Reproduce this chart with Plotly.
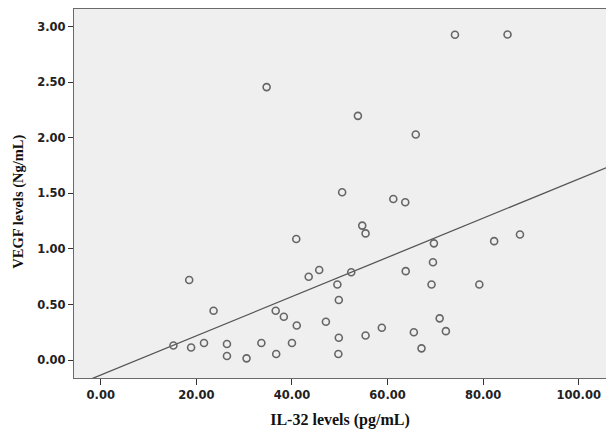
import plotly.graph_objects as go

il32 = [34.7, 74.1, 85.1, 53.8, 65.9, 50.5, 61.2, 63.7,
        54.7, 55.4, 69.7, 82.3, 87.7, 69.5, 63.8, 52.4, 45.7, 43.5,
        49.5, 69.2, 79.2, 49.8, 47.1, 41.0, 70.9, 58.8, 72.2, 65.5,
        49.8, 55.4, 67.1, 49.7,
        40.9, 18.5, 23.6, 36.6, 38.3, 15.2, 18.9, 21.6, 26.4, 26.4,
        30.5, 33.6, 36.7, 40.0]
vegf = [2.457, 2.928, 2.93, 2.198, 2.03, 1.51, 1.45, 1.42,
        1.21, 1.14, 1.05, 1.07, 1.13, 0.88, 0.80, 0.79, 0.81, 0.75,
        0.68, 0.68, 0.68, 0.54, 0.345, 0.31, 0.375, 0.29, 0.26, 0.25,
        0.20, 0.22, 0.105, 0.054,
        1.09, 0.72, 0.444, 0.444, 0.39, 0.13, 0.113, 0.153, 0.144, 0.036,
        0.015, 0.153, 0.054, 0.153]

fit_intercept = -0.135
fit_slope = 0.01765
fit_x = [-5.6, 105.7]
fit_y = [fit_intercept + fit_slope * v for v in fit_x]

x_ticks = [0, 20, 40, 60, 80, 100]
x_tick_labels = ["0.00", "20.00", "40.00", "60.00", "80.00", "100.00"]
y_ticks = [0, 0.5, 1.0, 1.5, 2.0, 2.5, 3.0]
y_tick_labels = ["0.00", "0.50", "1.00", "1.50", "2.00", "2.50", "3.00"]

fig = go.Figure()
fig.add_trace(go.Scatter(x=fit_x, y=fit_y, mode="lines",
                         line=dict(color="#555555", width=1.3),
                         hoverinfo="skip", showlegend=False))
fig.add_trace(go.Scatter(x=il32, y=vegf, mode="markers",
                         marker=dict(symbol="circle-open", size=7,
                                     color="#666666", line=dict(width=1.6)),
                         showlegend=False))

tick_font = dict(family="DejaVu Sans", size=11.5, color="#222222", weight="bold")

fig.update_layout(
    width=614, height=440,
    margin=dict(l=66, r=16, t=1, b=70),
    paper_bgcolor="white", plot_bgcolor="#efefef",
    font=dict(family="DejaVu Sans", color="#222222"),
    annotations=[dict(text="VEGF levels (Ng/mL)", textangle=-90,
                      xref="paper", yref="paper", x=-0.104, y=0.477,
                      xanchor="center", yanchor="middle", showarrow=False,
                      font=dict(family="Liberation Serif", size=14.5,
                                color="#111111", weight="bold"))],
)
fig.update_xaxes(
    range=[-5.6, 105.7], tickvals=x_ticks, ticktext=x_tick_labels,
    showgrid=False, zeroline=False, showline=True, linecolor="#6a6a6a",
    linewidth=1.3, mirror=True, ticks="outside", ticklen=6, tickcolor="#333333",
    tickfont=tick_font,
    title=dict(text="IL-32 levels (pg/mL)", standoff=12,
               font=dict(family="Liberation Serif", size=16, color="#111111", weight="bold")),
)
fig.update_yaxes(
    range=[-0.162, 3.16], tickvals=y_ticks, ticktext=y_tick_labels,
    showgrid=False, zeroline=False, showline=True, linecolor="#6a6a6a",
    linewidth=1.3, mirror=True, ticks="outside", ticklen=5, tickcolor="#333333",
    tickfont=tick_font,
)

fig.write_html("out.html")
